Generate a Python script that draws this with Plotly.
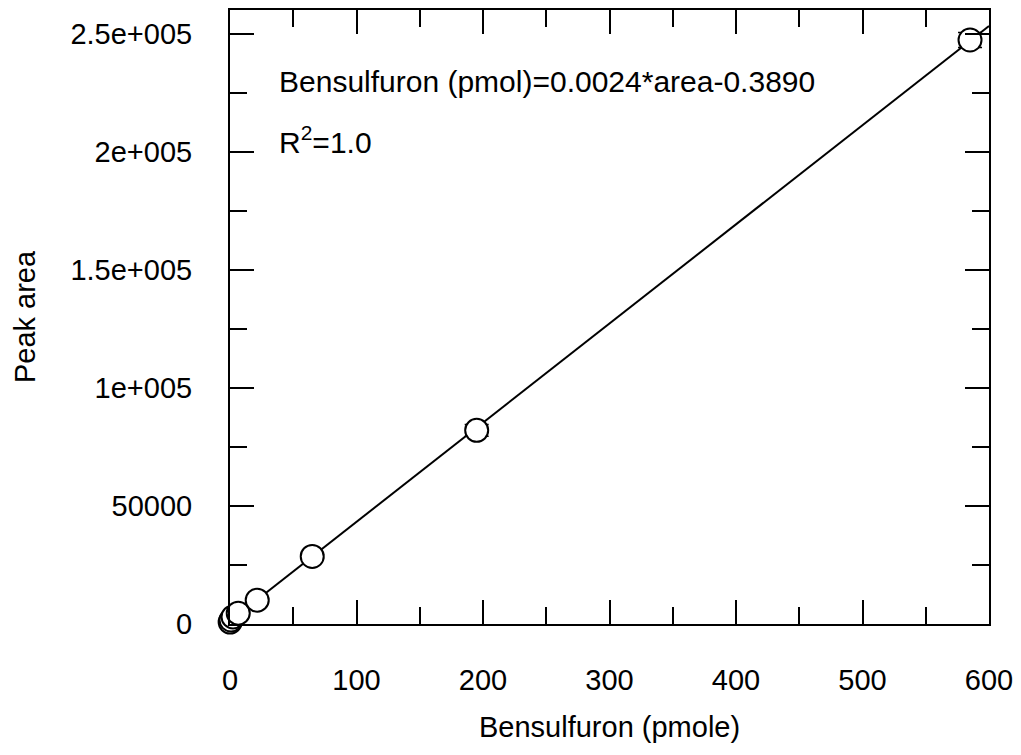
import numpy as np
import plotly.graph_objects as go

# Data
bensulfuron_pmole = [0.1, 0.8, 2.4, 6.5, 21.5, 65.0, 195.0, 585.0]
peak_area = [800, 1700, 3000, 4600, 10100, 28600, 82000, 247300]
peak_area_err = [100, 150, 200, 300, 500, 700, 2500, 3200]

x_ticks = [0, 100, 200, 300, 400, 500, 600]
y_ticks = [0, 50000, 100000, 150000, 200000, 250000]
y_tick_text = ["0", "50000", "1e+005", "1.5e+005", "2e+005", "2.5e+005"]

equation_text = "Bensulfuron (pmol)=0.0024*area-0.3890"
r2_text = "R<sup>2</sup>=1.0"

# regression line through the data
slope, intercept = np.polyfit(bensulfuron_pmole, peak_area, 1)
fit_x = np.array([0.0, 600.0])
fit_y = slope * fit_x + intercept

FONT = "Liberation Sans, Arial, sans-serif"
FS = 29

fig = go.Figure()
fig.add_trace(go.Scatter(
    x=fit_x, y=fit_y, mode="lines",
    line=dict(color="black", width=2), showlegend=False, hoverinfo="skip",
))
fig.add_trace(go.Scatter(
    x=bensulfuron_pmole, y=peak_area, mode="markers",
    marker=dict(symbol="circle", size=23, color="white",
                line=dict(color="black", width=2)),
    error_y=dict(type="data", array=peak_area_err, visible=True,
                 color="black", thickness=1.5, width=12),
    cliponaxis=False, showlegend=False,
))

fig.update_layout(
    width=1021, height=755,
    margin=dict(l=230, r=31, t=8, b=131),
    paper_bgcolor="white", plot_bgcolor="white",
    font=dict(family=FONT, size=FS, color="black"),
    showlegend=False,
)

fig.update_xaxes(
    range=[0, 600], tickvals=x_ticks, ticktext=[str(v) for v in x_ticks],
    ticks="inside", ticklen=24, tickwidth=2, tickcolor="black",
    minor=dict(dtick=50, tick0=0, ticks="inside", ticklen=17, tickwidth=2,
               tickcolor="black", showgrid=False),
    showline=True, linecolor="black", linewidth=2, mirror="allticks",
    showgrid=False, zeroline=False, ticklabelstandoff=29,
    tickfont=dict(family=FONT, size=FS),
)
fig.update_yaxes(
    range=[0, 260000], tickvals=y_ticks, ticktext=y_tick_text,
    ticks="inside", ticklen=24, tickwidth=2, tickcolor="black",
    minor=dict(dtick=25000, tick0=0, ticks="inside", ticklen=17, tickwidth=2,
               tickcolor="black", showgrid=False),
    showline=True, linecolor="black", linewidth=2, mirror="allticks",
    showgrid=False, zeroline=False, ticklabelstandoff=30,
    tickfont=dict(family=FONT, size=FS),
)

fig.add_annotation(
    text="Bensulfuron (pmole)", xref="paper", yref="paper",
    x=0.5, y=-0.168, xanchor="center", yanchor="middle",
    showarrow=False, font=dict(family=FONT, size=FS),
)
fig.add_annotation(
    text="Peak area", xref="paper", yref="paper",
    x=-0.270, y=0.5, xanchor="center", yanchor="middle", textangle=-90,
    showarrow=False, font=dict(family=FONT, size=FS),
)
fig.add_annotation(
    text=equation_text, xref="paper", yref="paper",
    x=(277 - 230) / 760, y=(624 - 80) / 616, xanchor="left", yanchor="middle",
    showarrow=False, font=dict(family=FONT, size=30),
)
fig.add_annotation(
    text=r2_text, xref="paper", yref="paper",
    x=(277 - 230) / 760, y=(624 - 138) / 616, xanchor="left", yanchor="middle",
    showarrow=False, font=dict(family=FONT, size=30),
)

fig.write_html("out.html")
